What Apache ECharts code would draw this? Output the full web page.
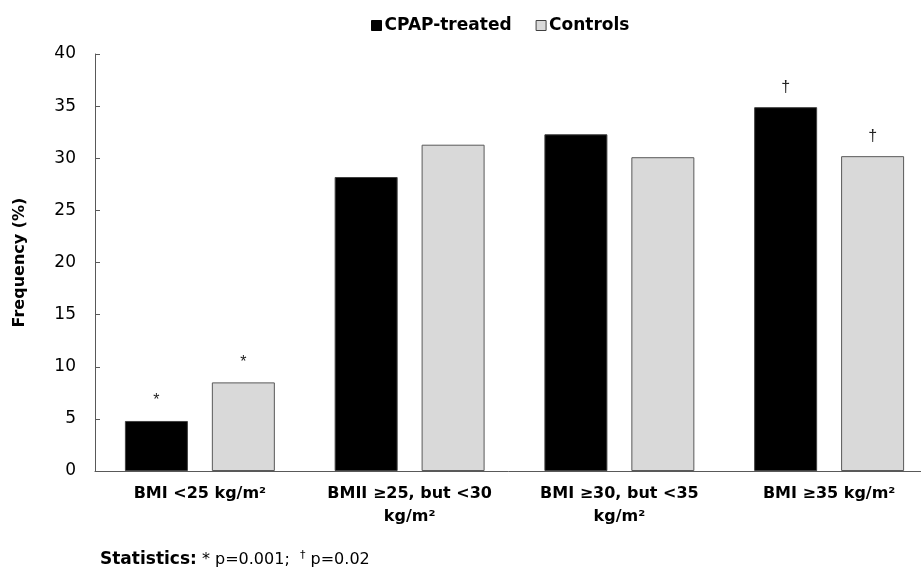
<!DOCTYPE html>
<html><head><meta charset="utf-8">
<script src="https://cdn.jsdelivr.net/npm/echarts@6/dist/echarts.min.js"></script>
<style>html,body{margin:0;padding:0;background:#fff}#c{width:921px;height:570px}</style>
</head><body><div id="c"></div>
<script>
const categories = ['BMI <25 kg/m²', 'BMII ≥25, but <30\nkg/m²', 'BMI ≥30, but <35\nkg/m²', 'BMI ≥35 kg/m²'];
const cpapValues = [4.8, 28.2, 32.3, 34.9];
const controlValues = [8.5, 31.3, 30.1, 30.2];
const cpapMarks = ['*', '', '', '†'];
const controlMarks = ['*', '', '', '†'];
const yTicks = [0, 5, 10, 15, 20, 25, 30, 35, 40];

const FONT = '"DejaVu Sans", sans-serif';
const chart = echarts.init(document.getElementById('c'));
function markLabel(marks) {
  return {
    show: true, position: 'top', distance: 12,
    formatter: p => marks[p.dataIndex],
    fontFamily: '"Liberation Sans", Arial, sans-serif', fontSize: 16, color: '#222'
  };
}
chart.setOption({
  animation: false,
  textStyle: { fontFamily: FONT },
  legend: {
    top: 12, left: 366, itemWidth: 10, itemHeight: 10, itemGap: 24,
    icon: 'rect',
    textStyle: { fontFamily: FONT, fontSize: 17, fontWeight: 'bold', color: '#000', padding: [0, 0, 0, -2] },
    data: [
      { name: 'CPAP-treated', itemStyle: { color: '#000', borderColor: '#000', borderWidth: 1 } },
      { name: 'Controls', itemStyle: { color: '#d9d9d9', borderColor: '#404040', borderWidth: 1 } }
    ]
  },
  grid: { left: 95, top: 54, width: 839, height: 417, containLabel: false, outerBoundsMode: 'none' },
  xAxis: {
    type: 'category', data: categories,
    axisLine: { lineStyle: { color: '#595959', width: 1 } },
    axisTick: { show: false },
    axisLabel: { interval: 0, hideOverlap: false, fontFamily: FONT, fontSize: 16, fontWeight: 'bold', color: '#000', margin: 11, lineHeight: 23 }
  },
  yAxis: {
    type: 'value', min: 0, max: 40, interval: 5,
    name: 'Frequency (%)', nameLocation: 'middle', nameGap: 67,
    nameTextStyle: { fontFamily: FONT, fontSize: 16, fontWeight: 'bold', color: '#000' },
    axisLine: { show: true, lineStyle: { color: '#595959', width: 1 } },
    axisTick: { show: true, inside: true, length: 5, lineStyle: { color: '#595959' } },
    splitLine: { show: false },
    axisLabel: { fontFamily: FONT, fontSize: 17, color: '#000', margin: 19,
      formatter: v => yTicks.includes(v) ? String(v) : '' }
  },
  series: [
    { name: 'CPAP-treated', type: 'bar', data: cpapValues, barWidth: 63, barGap: '38%',
      itemStyle: { color: '#000', borderColor: '#404040', borderWidth: 1 },
      label: markLabel(cpapMarks) },
    { name: 'Controls', type: 'bar', data: controlValues, barWidth: 63,
      itemStyle: { color: '#d9d9d9', borderColor: '#595959', borderWidth: 1 },
      label: markLabel(controlMarks) }
  ],
  graphic: [{
    type: 'text', left: 100, top: 550,
    style: {
      text: '{b|Statistics:} * p=0.001;  {s|†} p=0.02',
      fontFamily: FONT, fontSize: 16, fill: '#000',
      rich: {
        b: { fontFamily: FONT, fontSize: 17, fontWeight: 'bold', fill: '#000' },
        s: { fontFamily: FONT, fontSize: 11, verticalAlign: 'top', padding: [0, 0, 8, 0] }
      }
    }
  }]
});
</script></body></html>
